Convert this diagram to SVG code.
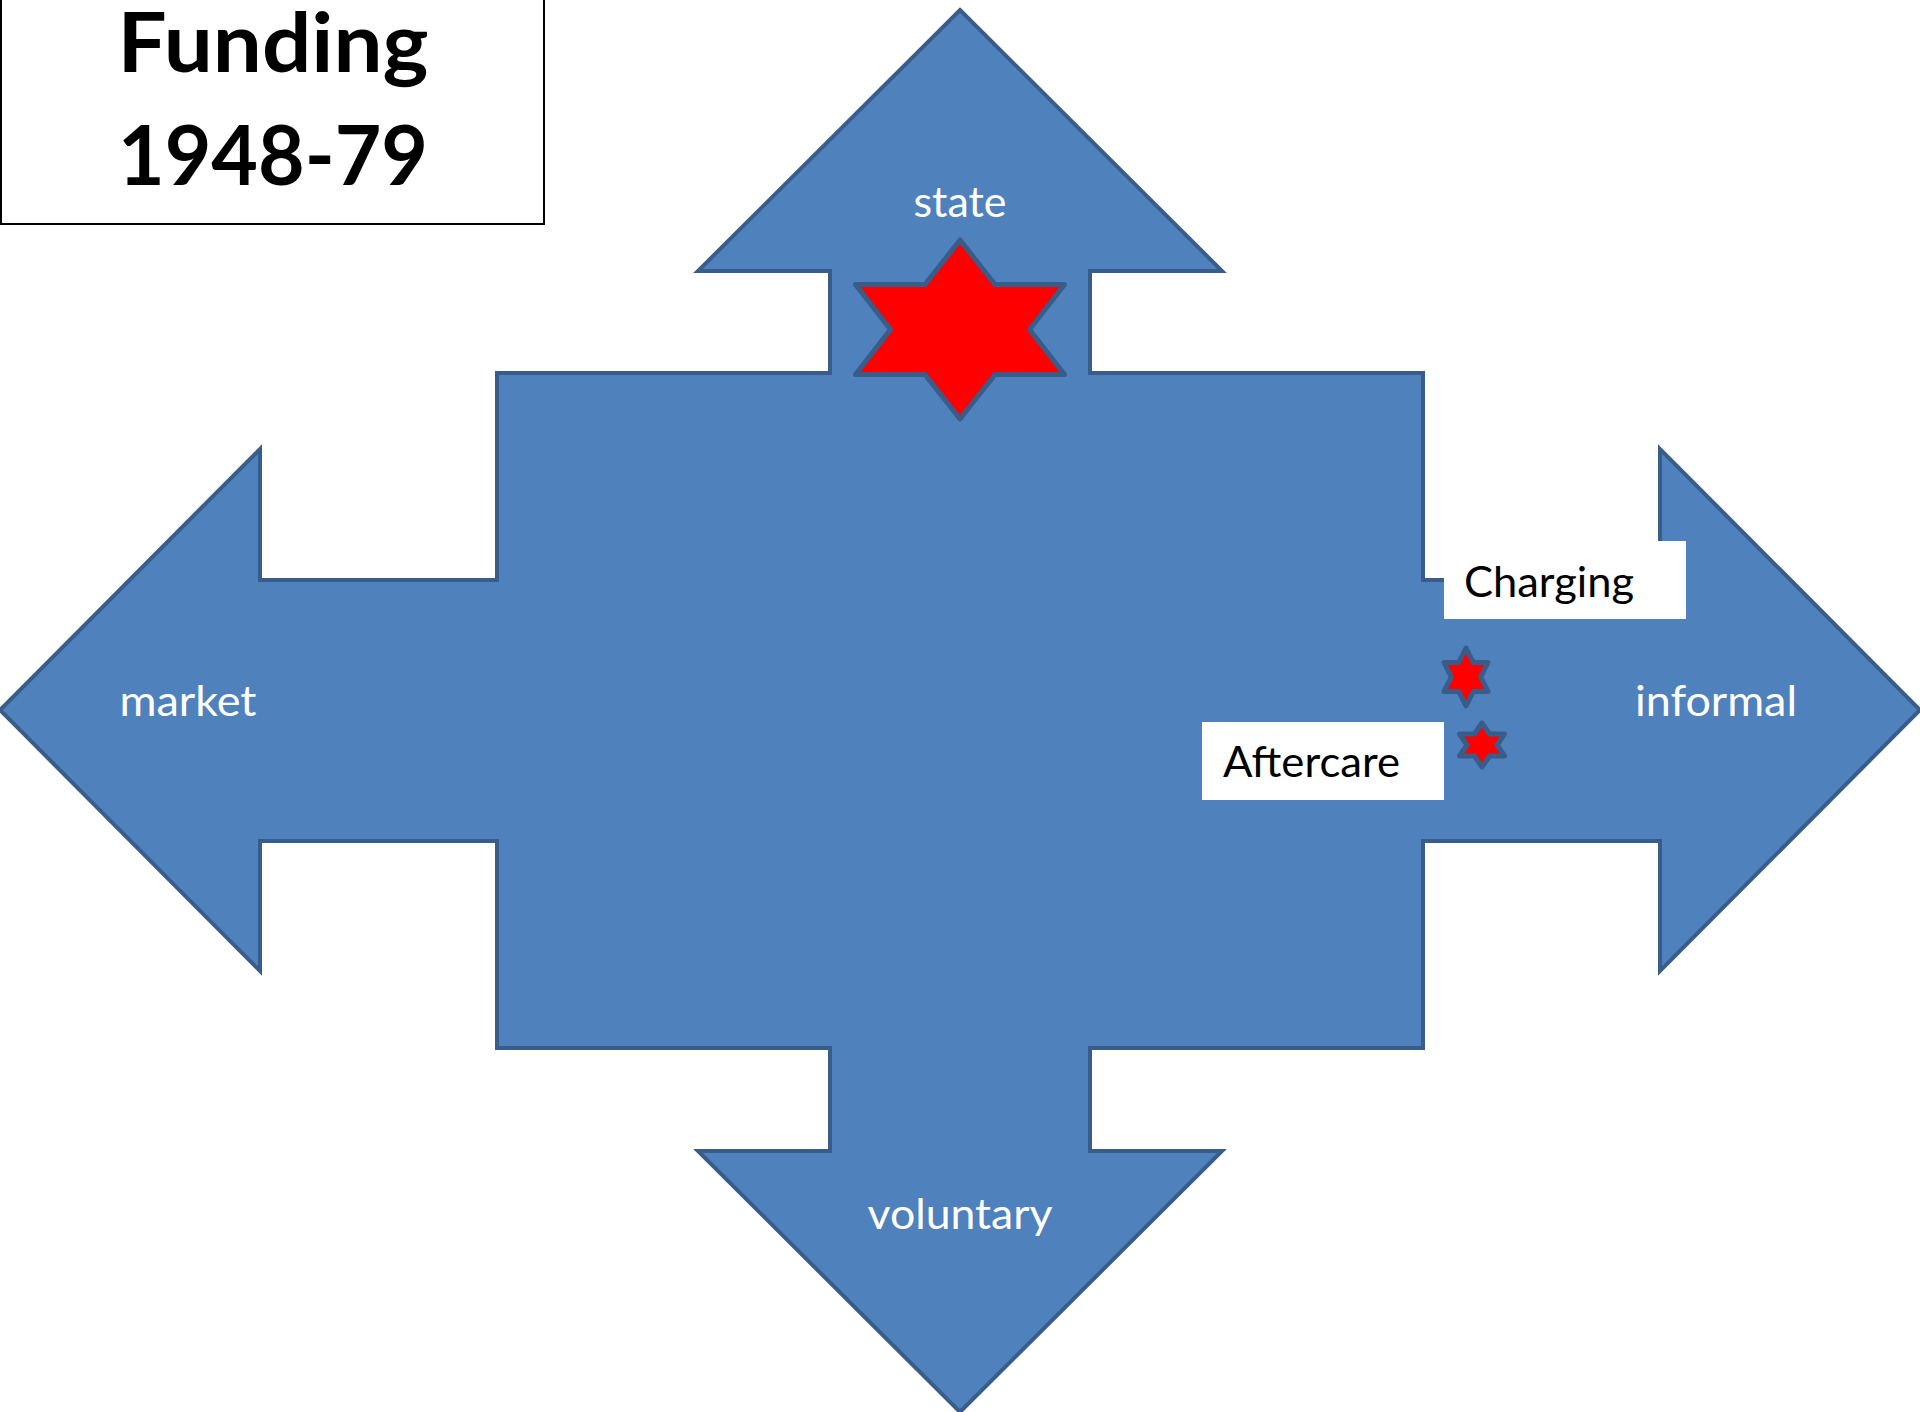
<svg xmlns="http://www.w3.org/2000/svg" width="1920" height="1412" viewBox="0 0 1920 1412">
<style>
.shape{fill:#4F81BD;stroke:#385D8A;stroke-width:4;stroke-linejoin:miter}
.star{fill:#FF0000;stroke:#385D8A;stroke-width:5;stroke-linejoin:round}
.lbl{font-family:Lato,"Open Sans","Liberation Sans",sans-serif;font-size:42px;fill:#FFFFFF;text-anchor:middle}
.blk{font-family:Lato,"Open Sans","Liberation Sans",sans-serif;font-size:42px;fill:#000000}
.title{font-family:Lato,"Open Sans","Liberation Sans",sans-serif;font-weight:bold;font-size:82px;fill:#000000;text-anchor:middle}
</style>
<rect width="1920" height="1412" fill="#FFFFFF"/>
<g id="connectors"/>
<g id="node-cross">
<path class="shape" d="M960,10 L1222,271 L1090,271 L1090,373 L1423,373 L1423,580 L1660,580 L1660,449 L1920,710 L1660,971 L1660,841 L1423,841 L1423,1048 L1090,1048 L1090,1151 L1222,1151 L960,1412 L698,1151 L830,1151 L830,1048 L497,1048 L497,841 L260,841 L260,971 L0,710 L260,449 L260,580 L497,580 L497,373 L830,373 L830,271 L698,271 Z"/>
</g>
<g id="node-state">
<text class="lbl" x="960" y="217" textLength="93" lengthAdjust="spacingAndGlyphs">state</text>
</g>
<g id="node-market">
<text class="lbl" x="188" y="716" textLength="137" lengthAdjust="spacingAndGlyphs">market</text>
</g>
<g id="node-informal">
<text class="lbl" x="1716" y="716" textLength="162" lengthAdjust="spacingAndGlyphs">informal</text>
</g>
<g id="node-voluntary">
<text class="lbl" x="960" y="1229" textLength="185" lengthAdjust="spacingAndGlyphs">voluntary</text>
</g>
<g id="node-star-state">
<polygon class="star" points="960,240 995,284.5 1064.5,284.5 1029.5,329.5 1064.5,374.5 995,374.5 960,419 925,374.5 855.5,374.5 890.5,329.5 855.5,284.5 925,284.5"/>
</g>
<g id="node-charging">
<rect x="1444" y="541" width="242" height="78" fill="#FFFFFF"/>
<text class="blk" x="1464" y="597" textLength="170" lengthAdjust="spacingAndGlyphs">Charging</text>
</g>
<g id="node-aftercare">
<rect x="1202" y="722" width="242" height="78" fill="#FFFFFF"/>
<text class="blk" x="1223" y="777" textLength="177" lengthAdjust="spacingAndGlyphs">Aftercare</text>
</g>
<g id="node-star-charging">
<polygon class="star" points="1466,648 1473.3,662.5 1488,662.5 1480.7,677 1488,691.5 1473.3,691.5 1466,706 1458.7,691.5 1444,691.5 1451.3,677 1444,662.5 1458.7,662.5"/>
</g>
<g id="node-star-aftercare">
<polygon class="star" points="1482,723 1489.5,734 1504.5,734 1497,745 1504.5,756 1489.5,756 1482,767 1474.5,756 1459.5,756 1467,745 1459.5,734 1474.5,734"/>
</g>
<g id="node-title">
<rect x="1" y="-5" width="543" height="229" fill="#FFFFFF" stroke="#000000" stroke-width="2"/>
<text class="title" x="273" y="72" textLength="311" lengthAdjust="spacingAndGlyphs">Funding</text>
<text class="title" x="273" y="185" textLength="310" lengthAdjust="spacingAndGlyphs">1948-79</text>
</g>
</svg>
